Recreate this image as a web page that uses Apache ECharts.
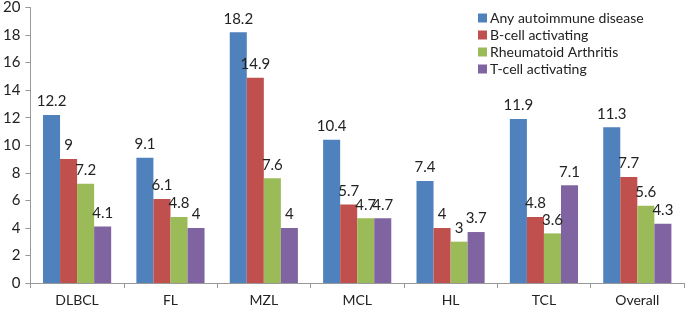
<!DOCTYPE html>
<html>
<head>
<meta charset="utf-8">
<script src="https://cdn.jsdelivr.net/npm/echarts@6/dist/echarts.min.js"></script>
<style>
  html, body { margin: 0; padding: 0; background: #fff; }
  #chart { width: 685px; height: 309px; }
</style>
</head>
<body>
<div id="chart"></div>
<script>
const categories = ["DLBCL", "FL", "MZL", "MCL", "HL", "TCL", "Overall"];
const seriesNames = ["Any autoimmune disease", "B-cell activating", "Rheumatoid Arthritis", "T-cell activating"];
const anyAutoimmune = [12.2, 9.1, 18.2, 10.4, 7.4, 11.9, 11.3];
const bCell = [9, 6.1, 14.9, 5.7, 4, 4.8, 7.7];
const rheumatoid = [7.2, 4.8, 7.6, 4.7, 3, 3.6, 5.6];
const tCell = [4.1, 4, 4, 4.7, 3.7, 7.1, 4.3];
const colors = ["#4F81BD", "#C0504D", "#9BBB59", "#8064A2"];

const myChart = echarts.init(document.getElementById("chart"));

const makeSeries = (name, values, color) => ({
  name: name,
  type: "bar",
  barGap: 0,
  barCategoryGap: "27%",
  itemStyle: { color: color },
  label: {
    show: true,
    position: "top",
    distance: 6,
    color: "#222",
    fontSize: 15,
  },
  data: values,
});

myChart.setOption({
  animation: false,
  textStyle: { fontFamily: "Lato" },
  legend: {
    orient: "vertical",
    left: 473,
    top: 6,
    itemWidth: 9,
    itemHeight: 9,
    itemGap: 3,
    icon: "rect",
    textStyle: { fontSize: 14, color: "#222", padding: [0, 0, 0, -2] },
    data: seriesNames,
  },
  grid: {
    left: 30,
    right: 1,
    top: 6,
    bottom: 26,
  },
  xAxis: {
    type: "category",
    data: categories,
    axisLine: { lineStyle: { color: "#999" } },
    axisTick: { show: true, length: 5, lineStyle: { color: "#999" } },
    axisLabel: { color: "#222", fontSize: 14, margin: 10 },
  },
  yAxis: {
    type: "value",
    min: 0,
    max: 20,
    interval: 2,
    axisLine: { show: true, lineStyle: { color: "#999" } },
    axisTick: { show: true, length: 5, lineStyle: { color: "#999" } },
    axisLabel: { color: "#222", fontSize: 15, margin: 10 },
    splitLine: { show: false },
  },
  series: [
    makeSeries(seriesNames[0], anyAutoimmune, colors[0]),
    makeSeries(seriesNames[1], bCell, colors[1]),
    makeSeries(seriesNames[2], rheumatoid, colors[2]),
    makeSeries(seriesNames[3], tCell, colors[3]),
  ],
});
</script>
</body>
</html>
